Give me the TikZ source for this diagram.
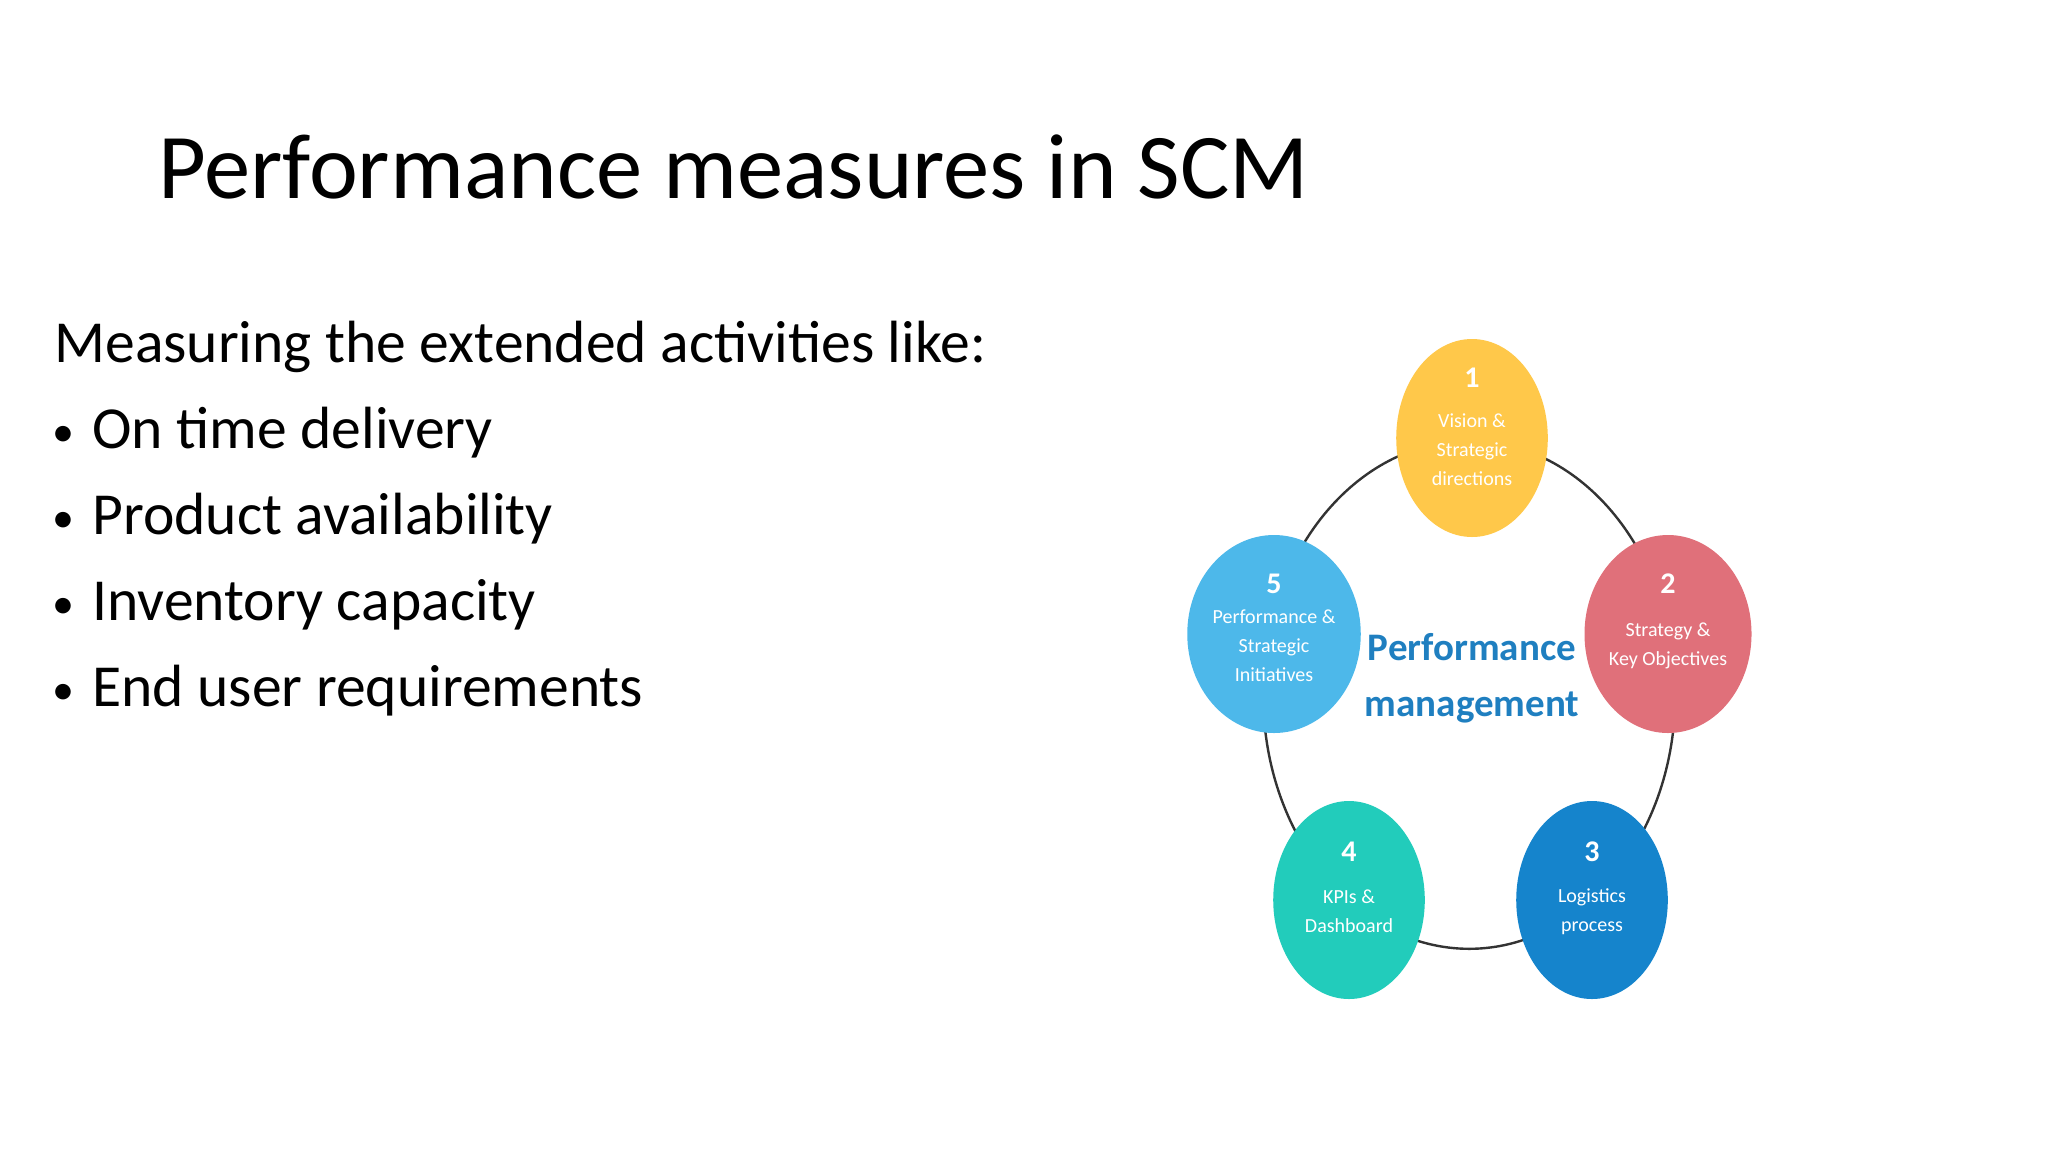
\documentclass[tikz,border=0pt]{standalone}
\usepackage{fontspec}
\setmainfont{Carlito}
\usetikzlibrary{shapes.geometric}
\definecolor{cy}{HTML}{FFC84A}
\definecolor{cr}{HTML}{E0707A}
\definecolor{cl}{HTML}{4DB8EA}
\definecolor{ct}{HTML}{22CCBB}
\definecolor{cb}{HTML}{1584CC}
\definecolor{cc}{HTML}{1F7FC0}
\tikzset{
 blob/.style={ellipse,minimum width=75.8pt,minimum height=99pt,inner sep=0pt,text=white,align=center,font=\fontsize{10}{14.5}\selectfont},
 num/.style={font=\bfseries\fontsize{15}{15}\selectfont,text=white},
 line/.style={text=black,anchor=base west,inner sep=0pt,font=\fontsize{29.8}{32}\selectfont}
}
\begin{document}
\begin{tikzpicture}[x=1pt,y=-1pt]
\useasboundingbox (0,0) rectangle (1024,576);
\node[anchor=base west,inner sep=0pt,font=\fontsize{46.3}{50}\selectfont] (title) at (79,99) {Performance measures in SCM};
\node[line] (l0) at (27,181) {Measuring the extended activities like:};
\foreach \t/\y [count=\i] in {On time delivery/224,Product availability/267,Inventory capacity/310,End user requirements/353}{
  \node[line,font=\fontsize{22}{24}\selectfont] (b\i) at (26,\y-1) {•};
  \node[line] (l\i) at (46,\y) {\t};
}
\draw[line width=1.2pt,color=black!80] (734.6,347.4) ellipse [x radius=103,y radius=127];
\node[blob,fill=cy] (e1) at (736,219) {\\[4pt]Vision \&\\Strategic\\directions};
\node[blob,fill=cr] (e2) at (834,317) {\\[4pt]Strategy \&\\Key Objectives};
\node[blob,fill=cb] (e3) at (796,450) {\\[4pt]Logistics\\process};
\node[blob,fill=ct] (e4) at (674.5,450) {\\[4pt]KPIs \&\\Dashboard};
\node[blob,fill=cl] (e5) at (637,317) {\\[4pt]Performance \&\\Strategic\\Initiatives};
\node[num] (n1) at (736,189) {1};
\node[num] (n2) at (834,292) {2};
\node[num] (n3) at (796,426) {3};
\node[num] (n4) at (674.5,426) {4};
\node[num] (n5) at (637,292) {5};
\node[text=cc,align=center,font=\bfseries\fontsize{19.5}{28}\selectfont] (pm) at (736,339) {Performance\\management};
\end{tikzpicture}
\end{document}
